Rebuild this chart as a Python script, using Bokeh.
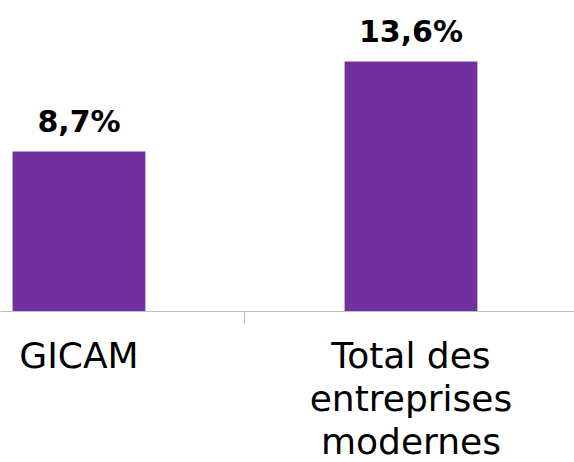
from bokeh.plotting import figure
from bokeh.models import ColumnDataSource, FixedTicker, Range1d
from bokeh.core.properties import value
from bokeh.embed import file_html
from bokeh.resources import INLINE

categories = ["GICAM", "Total des entreprises modernes"]
tick_labels = ["GICAM", "Total des\nentreprises\nmodernes"]
values = [8.7, 13.6]
value_labels = ["8,7%", "13,6%"]

xs = list(range(len(categories)))
src = ColumnDataSource(dict(x=xs, top=values, label=value_labels, cat=categories))

p = figure(frame_width=574, frame_height=311, output_backend="svg", toolbar_location=None,
           x_range=Range1d(-0.2364, 1.4925), y_range=Range1d(0, 16.92),
           min_border_left=0, min_border_right=0, min_border_top=0, min_border_bottom=0)

p.vbar(x="x", top="top", width=0.4, bottom=0, source=src,
       fill_color="#7030A0", line_color=None)

p.text(x="x", y="top", text="label", source=src, text_align="center",
       text_baseline="alphabetic", y_offset=-30,
       text_font=value("DejaVu Sans"), text_font_style="bold",
       text_font_size="30px", text_color="#000000")

p.yaxis.visible = False
p.xgrid.visible = False
p.ygrid.visible = False
p.outline_line_color = None

ax = p.xaxis[0]
ax.ticker = FixedTicker(ticks=xs, minor_ticks=[0.5])
ax.major_label_overrides = {i: t for i, t in zip(xs, tick_labels)}
ax.major_tick_out = 0
ax.major_tick_in = 0
ax.minor_tick_out = 13
ax.minor_tick_in = 0
ax.minor_tick_line_color = "#BFBFBF"
ax.axis_line_color = "#BFBFBF"
ax.axis_line_width = 1
ax.major_label_text_font = "DejaVu Sans"
ax.major_label_text_font_size = "36px"
ax.major_label_text_color = "#000000"
ax.major_label_standoff = 10
ax.major_label_text_line_height = 1.06

open("out.html", "w").write(file_html(p, INLINE))
